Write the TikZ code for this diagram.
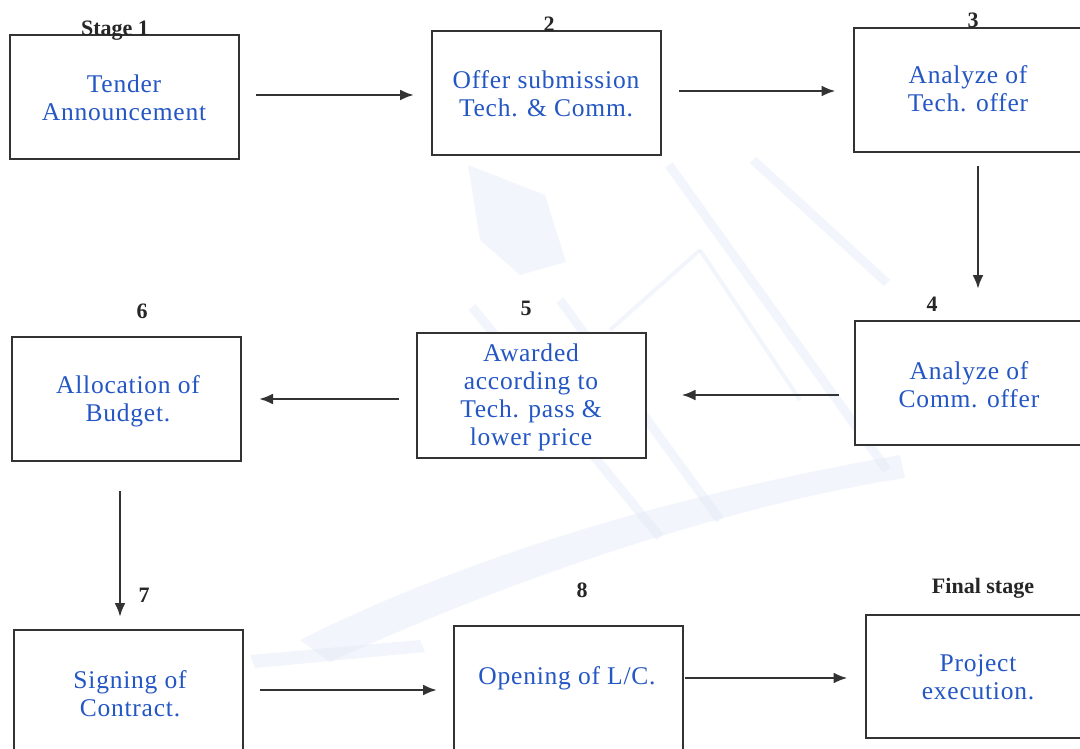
\documentclass[tikz,border=0pt]{standalone}
\usepackage{fontspec}
\setmainfont{Liberation Serif}
\newfontfamily\boxfont[LetterSpace=3]{Liberation Serif}
\usetikzlibrary{arrows.meta}
\definecolor{stepblue}{HTML}{2456C4}
\definecolor{edgegray}{HTML}{333333}
\definecolor{faintblue}{HTML}{DCE4F4}
\tikzset{
  stepbox/.style={draw=edgegray, fill=white, line width=2pt, minimum width=229pt, inner sep=0pt},
  steptext/.style={text=stepblue, align=center, font=\boxfont\fontsize{25.5}{28}\selectfont},
  stagelabel/.style={anchor=base, font=\bfseries\fontsize{22}{24}\selectfont, text=black!85},
  flow/.style={draw=edgegray, line width=2.6pt, -{Latex[length=14pt,width=11pt]}},
  wash/.style={fill=faintblue, draw=none, opacity=0.35},
  washline/.style={draw=faintblue, line width=9pt, opacity=0.35}
}
\begin{document}
\begin{tikzpicture}[x=1pt,y=-1pt]
\useasboundingbox (0,0) rectangle (1080,748);
\fill[white] (0,0) rectangle (1080,748);
\clip (0,0) rectangle (1080,748);

% faint background wash
\fill[wash] (468,165) -- (545,195) -- (566,262) -- (520,275) -- (480,240) -- cycle;
\draw[washline] (669,165) -- (887,470);
\draw[washline] (753,160) -- (887,283);
\draw[washline] (472,307) -- (660,537);
\draw[washline] (560,300) -- (720,520);
\draw[washline, line width=4pt] (610,330) -- (700,250);
\draw[washline, line width=4pt] (700,250) -- (800,400);
\fill[wash] (300,640) .. controls (520,530) and (760,480) .. (900,455)
  -- (905,478) .. controls (760,500) and (540,565) .. (330,662) -- cycle;
\fill[wash] (250,655) -- (420,640) -- (425,652) -- (255,668) -- cycle;

% process boxes
\node[stepbox, minimum height=124pt] (b1) at (124.5,97) {};
\node[stepbox, minimum height=124pt] (b2) at (546.5,93) {};
\node[stepbox, minimum height=124pt] (b3) at (968,90) {};
\node[stepbox, minimum height=124pt] (b4) at (969,383) {};
\node[stepbox, minimum height=125pt] (b5) at (531,395.5) {};
\node[stepbox, minimum height=124pt] (b6) at (126.5,399) {};
\node[stepbox, minimum height=126pt] (b7) at (128,693) {};
\node[stepbox, minimum height=130pt] (b8) at (568.5,691) {};
\node[stepbox, minimum height=123pt] (b9) at (980,676.5) {};

% box texts
\node[steptext] (t1) at (124,98) {Tender\\Announcement};
\node[steptext] (t2) at (546,94) {Offer submission\\Tech. \& Comm.};
\node[steptext] (t3) at (968,89) {Analyze of\\Tech. offer};
\node[steptext] (t4) at (969,385) {Analyze of\\Comm. offer};
\node[steptext] (t5) at (531,397) {Awarded\\according to\\Tech. pass \&\\lower price};
\node[steptext] (t6) at (128,401.5) {Allocation of\\Budget.};
\node[steptext] (t7) at (130,693.5) {Signing of\\Contract.};
\node[steptext] (t8) at (567,678) {Opening of L/C.};
\node[steptext] (t9) at (978,677) {Project\\execution.};

% stage numbers
\node[stagelabel] (s1) at (115,35) {Stage 1};
\node[stagelabel] (s2) at (549,31) {2};
\node[stagelabel] (s3) at (973,27) {3};
\node[stagelabel] (s4) at (932,311) {4};
\node[stagelabel] (s5) at (526,315) {5};
\node[stagelabel] (s6) at (142,318) {6};
\node[stagelabel] (s7) at (144,602) {7};
\node[stagelabel] (s8) at (582,597) {8};
\node[stagelabel] (s9) at (983,593) {Final stage};

% flow arrows
\draw[flow] ([xshift=16pt]b1.east |- 0,95) -- ([xshift=-17pt]b2.west |- 0,95);
\draw[flow] ([xshift=17pt]b2.east |- 0,91) -- ([xshift=-17pt]b3.west |- 0,91);
\draw[flow] ([yshift=-13pt]b3.south -| 978,0) -- ([yshift=31pt]b4.north -| 978,0);
\draw[flow] ([xshift=-15pt]b4.west |- 0,395) -- ([xshift=35pt]b5.east |- 0,395);
\draw[flow] ([xshift=-17pt]b5.west |- 0,399) -- ([xshift=17pt]b6.east |- 0,399);
\draw[flow] ([yshift=-29pt]b6.south -| 120,0) -- ([yshift=12pt]b7.north -| 120,0);
\draw[flow] ([xshift=16pt]b7.east |- 0,690) -- ([xshift=-16pt]b8.west |- 0,690);
\draw[flow] ([xshift=1pt]b8.east |- 0,678) -- ([xshift=-17pt]b9.west |- 0,678);
\end{tikzpicture}
\end{document}
